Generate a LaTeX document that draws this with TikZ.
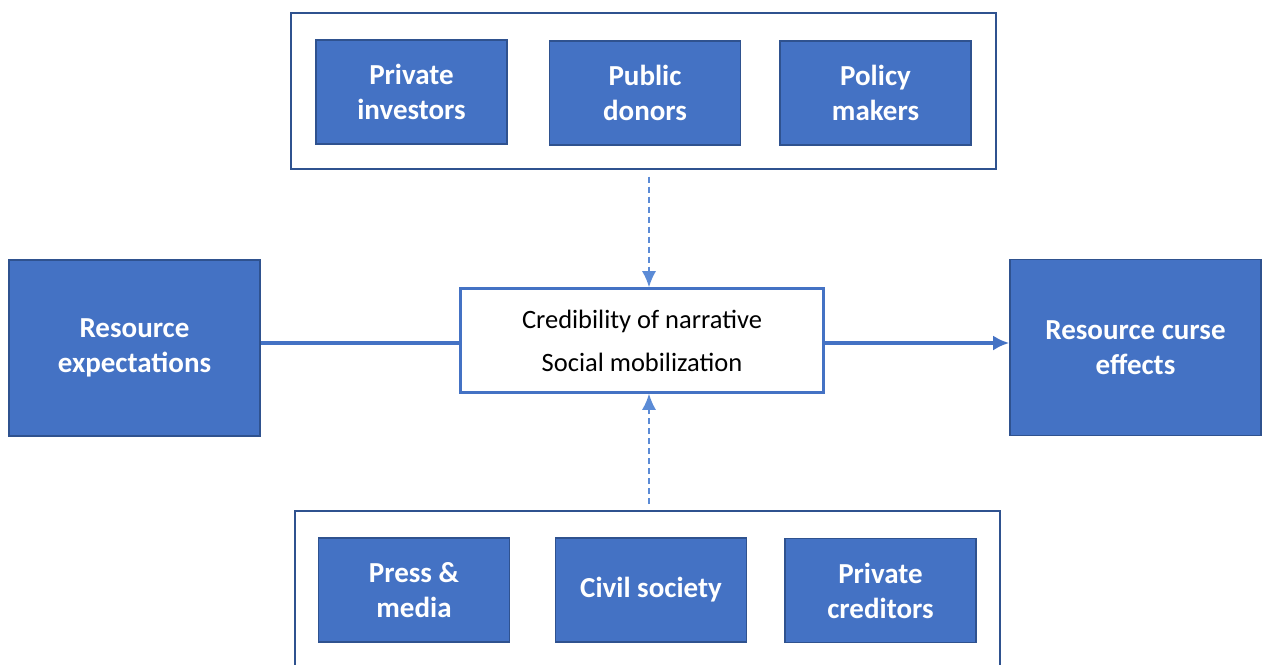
\documentclass[tikz,border=0pt]{standalone}
\usepackage{fontspec}
\setmainfont{Carlito}
\usetikzlibrary{arrows.meta,positioning}
\definecolor{accent}{HTML}{4472C4}
\definecolor{accentdark}{HTML}{2F528F}
\definecolor{dashblue}{HTML}{5B8BD6}

\begin{document}
\begin{tikzpicture}[x=1pt,y=-1pt,
    actor/.style={draw=accentdark,line width=1.6pt,fill=accent,text=white,
      font=\bfseries\fontsize{29}{35}\selectfont,align=center,
      minimum width=191pt,minimum height=104pt,inner sep=0pt},
    outcome/.style={actor,minimum width=251pt,minimum height=176pt},
    frame/.style={draw=accentdark,line width=2pt,inner sep=0pt},
    mediator/.style={draw=accent,line width=2.6pt,fill=white,align=center,
      font=\fontsize{26.5}{43}\selectfont,minimum width=363pt,minimum height=104pt,inner sep=0pt},
    link/.style={draw=accent,line width=3.5pt},
    influence/.style={draw=dashblue,line width=1.6pt,dash pattern=on 6pt off 4pt,
      -{Latex[length=16pt,width=14pt]}}]
  \path[use as bounding box,clip] (0,0) rectangle (1263,664);

  % upper group
  \node[frame,minimum width=705pt,minimum height=156pt](upper)at(643,90.5){};
  \node[actor](investors)at(411.5,92){Private\\investors};
  \node[actor](donors)at(645,93){Public\\donors};
  \node[actor](policy)at(875.5,93){Policy\\makers};

  % lower group
  \node[frame,minimum width=705pt,minimum height=190pt](lower)at(647.5,606){};
  \node[actor](press)at(414,590){Press \&\\media};
  \node[actor](civil)at(651,590){Civil society};
  \node[actor](creditors)at(880.5,590.5){Private\\creditors};

  % main chain
  \node[outcome](expect)at(134.5,348){Resource\\expectations};
  \node[mediator](narrative)at(642,340.5){Credibility of narrative\\Social mobilization};
  \node[outcome](curse)at(1135.5,347.5){Resource curse\\effects};

  \draw[link]([yshift=-2.5pt]narrative.west -| expect.east)--([yshift=-2.5pt]narrative.west);
  \draw[link,-{Latex[length=16pt,width=15pt]}]([yshift=-2.5pt]narrative.east)--([yshift=-2.5pt]narrative.east -| curse.west);

  \draw[influence]([xshift=6pt,yshift=-7pt]upper.south)--([xshift=7pt]narrative.north);
  \draw[influence]([xshift=1.5pt,yshift=6pt]lower.north)--([xshift=7pt]narrative.south);
\end{tikzpicture}
\end{document}
